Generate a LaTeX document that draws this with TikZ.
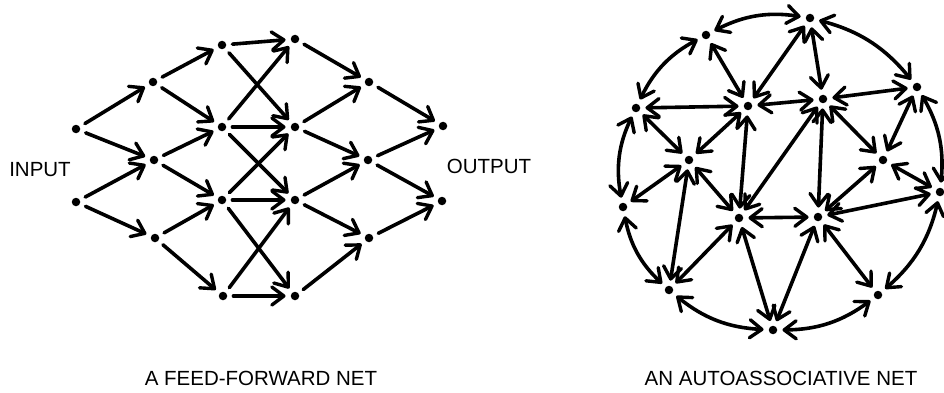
\documentclass[tikz,border=0pt]{standalone}
\usepackage{fontspec}
\setmainfont{Liberation Sans}
\usetikzlibrary{arrows.meta}
\begin{document}
\begin{tikzpicture}[x=1pt,y=-1pt,
  dot/.style={circle,fill=black,inner sep=0pt,minimum size=8.5pt},
  barb/.tip={Straight Barb[length=12pt,width=18pt,line width=3.4pt,round]},
  ff/.style={line width=3.6pt,line cap=round,-barb,
    shorten >=5pt,shorten <=6pt},
  aa/.style={line width=3.6pt,line cap=round,barb-barb,
    shorten >=5pt,shorten <=5pt},
  ring/.style={aa,bend left=18},
  lbl/.style={font=\fontsize{20.5pt}{23pt}\selectfont,inner sep=0pt}]
\useasboundingbox (0,0) rectangle (944,393);
% ---------- feed-forward net ----------
\node[dot] (i1) at (76,129) {};
\node[dot] (i2) at (76,202) {};
\node[dot] (a1) at (153,82) {};
\node[dot] (a2) at (154,160) {};
\node[dot] (a3) at (155,238) {};
\node[dot] (b1) at (222,45) {};
\node[dot] (b2) at (222,127) {};
\node[dot] (b3) at (222,200) {};
\node[dot] (b4) at (223,296) {};
\node[dot] (c1) at (295,39) {};
\node[dot] (c2) at (295,127) {};
\node[dot] (c3) at (295,200) {};
\node[dot] (c4) at (295,296) {};
\node[dot] (d1) at (369,82) {};
\node[dot] (d2) at (368,160) {};
\node[dot] (d3) at (369,238) {};
\node[dot] (o1) at (443,126) {};
\node[dot] (o2) at (442,201) {};
\foreach \s/\t in {i1/a1,i1/a2,i2/a2,i2/a3,
  a1/b1,a1/b2,a2/b2,a2/b3,a3/b3,a3/b4,
  b1/c1,b1/c2,b2/c1,b2/c2,b2/c3,b3/c2,b3/c3,b3/c4,b4/c3,b4/c4,
  c1/d1,c2/d1,c2/d2,c3/d2,c3/d3,c4/d3,
  d1/o1,d2/o1,d2/o2,d3/o2}
  \draw[ff] (\s) -- (\t);
\node[lbl] (inp) at (40,170) {INPUT};
\node[lbl] (outp) at (489,166) {OUTPUT};
\node[lbl] (cap1) at (261,378) {A FEED-FORWARD NET};
% ---------- autoassociative net ----------
\node[dot] (A) at (810,18) {};
\node[dot] (B) at (706,35) {};
\node[dot] (C) at (636,108) {};
\node[dot] (D) at (748,106) {};
\node[dot] (E) at (823,99) {};
\node[dot] (F) at (917,87) {};
\node[dot] (G) at (689,160) {};
\node[dot] (H) at (883,160) {};
\node[dot] (I) at (623,207) {};
\node[dot] (J) at (739,218) {};
\node[dot] (K) at (818,217) {};
\node[dot] (L) at (940,192) {};
\node[dot] (M) at (669,290) {};
\node[dot] (N) at (878,295) {};
\node[dot] (O) at (773,330) {};
\foreach \s/\t in {A/D,A/E,B/D,C/D,C/G,D/G,D/E,D/J,E/F,E/H,E/J,E/K,
  F/H,G/I,G/J,G/M,H/K,H/L,J/K,J/M,J/O,K/L,K/N,K/O}
  \draw[aa] (\s) -- (\t);
\foreach \s/\t in {A/F,F/L,L/N,N/O,O/M,M/I,I/C,C/B,B/A}
  \draw[ring] (\s) to (\t);
\node[lbl] (cap2) at (781,378) {AN AUTOASSOCIATIVE NET};
\end{tikzpicture}
\end{document}
